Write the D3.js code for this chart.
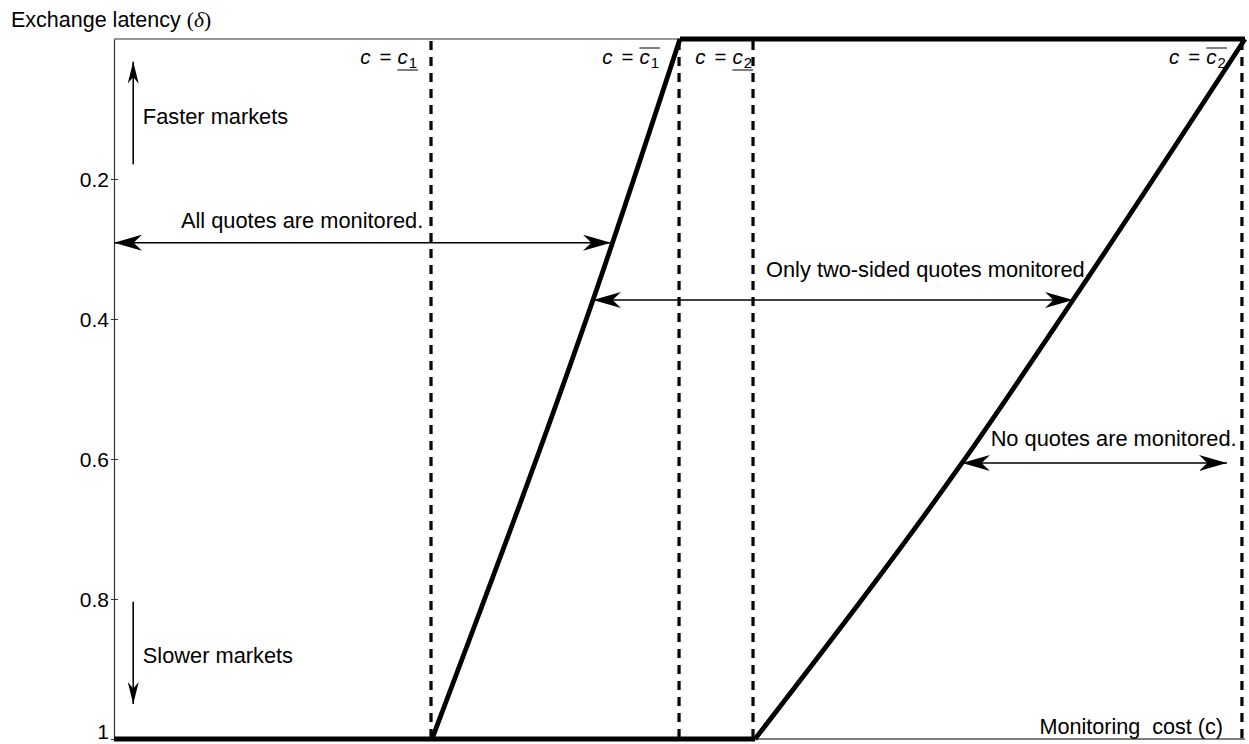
<!DOCTYPE html>
<html>
<head>
<meta charset="utf-8">
<script src="https://cdn.jsdelivr.net/npm/d3@7"></script>
<style>
  html, body { margin: 0; padding: 0; background: #fff; }
  svg { display: block; }
  text { font-family: "Liberation Sans", Arial, Helvetica, sans-serif; fill: #000; }
</style>
</head>
<body>
<svg id="chart" width="1249" height="744"></svg>
<script>
// ---------------- data ----------------
// y axis: exchange latency delta (0 = fastest, top; 1 = slowest, bottom)
const yTicks = [0.2, 0.4, 0.6, 0.8, 1];
const yTickLabels = ["0.2", "0.4", "0.6", "0.8", "1"];

// x axis: monitoring cost c (arbitrary units, 0..1, no tick labels)
const thresholdValues = [0.2803, 0.4996, 0.5650, 0.9973];
const thresholdSub = ["1", "1", "2", "2"];
const thresholdBar = ["under", "over", "under", "over"];

// boundary curves c(delta)
const boundary1C = [0.2812, 0.4235, 0.5004];
const boundary1D = [1, 0.3729, 0];
const boundary2C = [0.5668, 0.7498, 0.8479, 1.0];
const boundary2D = [1, 0.6057, 0.3729, 0];

// regions
const regionLabels = ["All quotes are monitored.", "Only two-sided quotes monitored.", "No quotes are monitored."];
const regionArrowFrom = [0, 0.4235, 0.7498];
const regionArrowTo = [0.4394, 0.8479, 0.984];
const regionArrowDelta = [0.291, 0.3729, 0.6057];

// direction hints
const directionLabels = ["Faster markets", "Slower markets"];
const directionFrom = [0.179, 0.804];
const directionTo = [0.0324, 0.95];

// ---------------- drawing ----------------
const svg = d3.select("#chart");
const x = d3.scaleLinear().domain([0, 1]).range([114, 1245]);
const y = d3.scaleLinear().domain([0, 1]).range([39, 739]);

// arrowhead markers
const defs = svg.append("defs");
function addMarker(id, L, Wd) {
  defs.append("marker")
    .attr("id", id)
    .attr("markerUnits", "userSpaceOnUse")
    .attr("viewBox", `${-L} ${-Wd / 2} ${L} ${Wd}`)
    .attr("markerWidth", L)
    .attr("markerHeight", Wd)
    .attr("refX", 0).attr("refY", 0)
    .attr("orient", "auto-start-reverse")
    .append("path")
    .attr("d", `M0,0 L${-L},${-Wd / 2} L${-0.7 * L},0 L${-L},${Wd / 2} Z`)
    .attr("fill", "#000");
}
addMarker("headH", 28, 16);
addMarker("headV", 22, 11);

// frame (top and bottom thin lines)
svg.append("line").attr("x1", x(0)).attr("x2", x(1)).attr("y1", y(0)).attr("y2", y(0))
  .attr("stroke", "#333").attr("stroke-width", 1.2);
svg.append("line").attr("x1", x(0)).attr("x2", x(1)).attr("y1", y(1)).attr("y2", y(1))
  .attr("stroke", "#555").attr("stroke-width", 1.6);

// y axis
const yAxis = d3.axisLeft(y).tickValues(yTicks)
  .tickFormat((d, i) => yTickLabels[i]).tickSizeOuter(0);
const gy = svg.append("g").attr("transform", `translate(${x(0)},0)`).call(yAxis);
gy.select(".domain").attr("stroke", "#333").attr("stroke-width", 1.2);
gy.selectAll(".tick line").attr("x1", -3).attr("x2", 4).attr("stroke", "#333").attr("stroke-width", 1);
gy.selectAll(".tick text").attr("x", -5).attr("dy", (d, i) => i === yTicks.length - 1 ? "-0.02em" : "0.36em")
  .style("font-size", "21px").style("font-family", '"Liberation Sans", Arial, sans-serif').attr("fill", "#000");

// threshold dashed lines
svg.append("g").selectAll("line").data(thresholdValues).join("line")
  .attr("x1", d => x(d)).attr("x2", d => x(d))
  .attr("y1", y(0) + 2).attr("y2", y(1))
  .attr("stroke", "#000").attr("stroke-width", 3.2)
  .attr("stroke-dasharray", "9,7");

// boundary curves with thick bottom/top lines
const curve = d3.line().x(d => x(d[0])).y(d => y(d[1])).curve(d3.curveMonotoneY);
const b1 = boundary1C.map((c, i) => [c, boundary1D[i]]);
const b2 = boundary2C.map((c, i) => [c, boundary2D[i]]);
const straight = d3.line().x(d => x(d[0])).y(d => y(d[1]));
const g = svg.append("g").attr("fill", "none").attr("stroke", "#000")
  .attr("stroke-width", 4.8).attr("stroke-linejoin", "miter");
g.append("path").attr("d", straight([[0, 1], [boundary2C[0], 1]]));
g.append("path").attr("d", straight([[boundary1C[boundary1C.length - 1], 0], [1, 0]]));
g.append("path").attr("d", curve(b1));
g.append("path").attr("d", curve(b2));

// region arrows and labels
const labelPos = [[0.0592, 0.270], [0.5765, 0.340], [0.7751, 0.5814]];
regionLabels.forEach((lab, i) => {
  svg.append("line")
    .attr("x1", x(regionArrowFrom[i])).attr("x2", x(regionArrowTo[i]))
    .attr("y1", y(regionArrowDelta[i])).attr("y2", y(regionArrowDelta[i]))
    .attr("stroke", "#000").attr("stroke-width", 1.6)
    .attr("marker-start", "url(#headH)").attr("marker-end", "url(#headH)");
  svg.append("text").attr("x", x(labelPos[i][0])).attr("y", y(labelPos[i][1]))
    .style("font-size", "21.8px").text(lab);
});

// direction arrows
const dirLabelPos = [[0.0255, 0.121], [0.0255, 0.891]];
directionLabels.forEach((lab, i) => {
  svg.append("line")
    .attr("x1", x(0.017)).attr("x2", x(0.017))
    .attr("y1", y(directionFrom[i])).attr("y2", y(directionTo[i]))
    .attr("stroke", "#000").attr("stroke-width", 1.6)
    .attr("marker-end", "url(#headV)");
  svg.append("text").attr("x", x(dirLabelPos[i][0])).attr("y", y(dirLabelPos[i][1]))
    .style("font-size", "21.8px").text(lab);
});

// threshold labels  c = c_1 (under/over bar)
const labelRightGap = [14, 20, 1, 16];
thresholdValues.forEach((v, i) => {
  const t = svg.append("text").attr("x", 0).attr("y", 64).style("font-size", "20.5px");
  t.append("tspan").style("font-style", "italic").text("c");
  t.append("tspan").attr("dx", 9).text("=");
  t.append("tspan").attr("dx", 6).style("font-style", "italic").text("c");
  t.append("tspan").attr("dx", 1).attr("dy", 4).style("font-size", "15px").text(thresholdSub[i]);
  const node = t.node();
  const bb = node.getBBox();
  const shift = x(v) - labelRightGap[i] - (bb.x + bb.width);
  t.attr("x", shift);
  const s = node.getStartPositionOfChar(2).x;
  const e = node.getEndPositionOfChar(3).x;
  const yb = thresholdBar[i] === "under" ? 70 : 48;
  svg.append("line").attr("x1", s).attr("x2", e + 1).attr("y1", yb).attr("y2", yb)
    .attr("stroke", "#000").attr("stroke-width", 1);
});

// axis titles
const serif = '"Liberation Serif", "Times New Roman", serif';
const yt = svg.append("text").attr("x", 11).attr("y", 27).style("font-size", "21.5px");
yt.append("tspan").text("Exchange latency ");
yt.append("tspan").style("font-family", serif).text("(");
yt.append("tspan").style("font-family", serif).style("font-style", "italic").text("δ");
yt.append("tspan").style("font-family", serif).text(")");

svg.append("text").attr("x", 1223).attr("y", 734).attr("text-anchor", "end")
  .style("font-size", "21.6px").style("white-space", "pre").text("Monitoring  cost (c)");
</script>
</body>
</html>
